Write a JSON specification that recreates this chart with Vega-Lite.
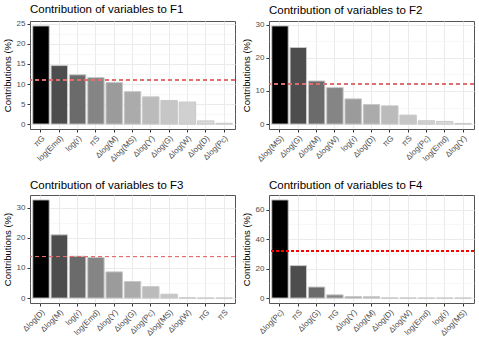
{
  "$schema": "https://vega.github.io/schema/vega-lite/v6.json",
  "padding": {"left": 1, "top": 3, "right": 2, "bottom": 0},
  "background": "white",
  "datasets": {
    "contrib": [
      {"panel": "F1", "variable": "πG", "contrib": 24.5},
      {"panel": "F1", "variable": "log(Emd)", "contrib": 14.6},
      {"panel": "F1", "variable": "log(r)", "contrib": 12.3},
      {"panel": "F1", "variable": "πS", "contrib": 11.6},
      {"panel": "F1", "variable": "Δlog(M)", "contrib": 10.4},
      {"panel": "F1", "variable": "Δlog(MS)", "contrib": 8.1},
      {"panel": "F1", "variable": "Δlog(Y)", "contrib": 6.8},
      {"panel": "F1", "variable": "Δlog(G)", "contrib": 5.9},
      {"panel": "F1", "variable": "Δlog(W)", "contrib": 5.5},
      {"panel": "F1", "variable": "Δlog(D)", "contrib": 0.8},
      {"panel": "F1", "variable": "Δlog(Pc)", "contrib": 0.2},
      {"panel": "F2", "variable": "Δlog(MS)", "contrib": 29.6},
      {"panel": "F2", "variable": "Δlog(G)", "contrib": 23.1},
      {"panel": "F2", "variable": "Δlog(M)", "contrib": 13.0},
      {"panel": "F2", "variable": "Δlog(W)", "contrib": 11.0},
      {"panel": "F2", "variable": "log(r)", "contrib": 7.6},
      {"panel": "F2", "variable": "Δlog(D)", "contrib": 5.9},
      {"panel": "F2", "variable": "πG", "contrib": 5.5},
      {"panel": "F2", "variable": "πS", "contrib": 2.7},
      {"panel": "F2", "variable": "Δlog(Pc)", "contrib": 1.0},
      {"panel": "F2", "variable": "log(Emd)", "contrib": 0.8},
      {"panel": "F2", "variable": "Δlog(Y)", "contrib": 0.2},
      {"panel": "F3", "variable": "Δlog(D)", "contrib": 32.6},
      {"panel": "F3", "variable": "Δlog(M)", "contrib": 21.0},
      {"panel": "F3", "variable": "log(r)", "contrib": 13.9},
      {"panel": "F3", "variable": "log(Emd)", "contrib": 13.5},
      {"panel": "F3", "variable": "Δlog(Y)", "contrib": 8.7},
      {"panel": "F3", "variable": "Δlog(G)", "contrib": 5.5},
      {"panel": "F3", "variable": "Δlog(Pc)", "contrib": 3.8},
      {"panel": "F3", "variable": "Δlog(MS)", "contrib": 1.3},
      {"panel": "F3", "variable": "Δlog(W)", "contrib": 0.1},
      {"panel": "F3", "variable": "πG", "contrib": 0.0},
      {"panel": "F3", "variable": "πS", "contrib": 0.0},
      {"panel": "F4", "variable": "Δlog(Pc)", "contrib": 66.5},
      {"panel": "F4", "variable": "πS", "contrib": 22.0},
      {"panel": "F4", "variable": "Δlog(G)", "contrib": 7.5},
      {"panel": "F4", "variable": "πG", "contrib": 2.2},
      {"panel": "F4", "variable": "Δlog(Y)", "contrib": 1.0},
      {"panel": "F4", "variable": "Δlog(M)", "contrib": 0.9},
      {"panel": "F4", "variable": "Δlog(D)", "contrib": 0.1},
      {"panel": "F4", "variable": "Δlog(W)", "contrib": 0.05},
      {"panel": "F4", "variable": "log(Emd)", "contrib": 0.0},
      {"panel": "F4", "variable": "log(r)", "contrib": 0.0},
      {"panel": "F4", "variable": "Δlog(MS)", "contrib": 0.0}
    ]
  },
  "config": {
    "font": "Liberation Sans",
    "view": {"stroke": "#555555", "strokeWidth": 1},
    "title": {"anchor": "start", "frame": "group", "fontSize": 11.5, "fontWeight": "normal", "color": "#000000", "offset": 4},
    "axis": {
      "labelFont": "Liberation Sans", "labelFontSize": 8, "labelColor": "#4d4d4d", "labelOverlap": false,
      "titleFont": "Liberation Sans", "titleFontSize": 9.5, "titleFontWeight": "normal", "titleColor": "#000000",
      "gridColor": "#ebebeb", "gridWidth": 1, "tickColor": "#333333", "tickSize": 3, "domain": false
    }
  },
  "columns": 2,
  "spacing": {"row": 15, "column": 4},
  "concat": [
    {
      "title": "Contribution of variables to F1",
      "width": 205, "height": 108,
      "data": {"name": "contrib"},
      "transform": [{"filter": "datum.panel === 'F1'"}, {"window": [{"op": "row_number", "as": "rank"}]}],
      "resolve": {"axis": {"y": "independent"}},
      "layer": [
        {
          "mark": {"type": "bar", "stroke": "#c8c8c8", "strokeWidth": 1},
          "encoding": {
            "x": {"field": "variable", "type": "nominal", "sort": null, "title": null,
                  "scale": {"paddingInner": 0.1, "paddingOuter": 0.15},
                  "axis": {"labelAngle": -45, "labelAlign": "right", "labelBaseline": "top", "bandPosition": 0.5, "grid": true}},
            "y": {"field": "contrib", "type": "quantitative", "title": "Contributions (%)",
                  "scale": {"domain": [-1.225, 25.725], "nice": false, "zero": false},
                  "axis": {"values": [0, 5, 10, 15, 20, 25], "grid": true}},
            "color": {"field": "rank", "type": "ordinal", "legend": null,
                      "scale": {"domain": [1,2,3,4,5,6,7,8,9,10,11], "range": ["#000000","#4d4d4d","#6b6b6b","#858585","#9b9b9b","#ababab","#bbbbbb","#c6c6c6","#d0d0d0","#dadada","#e4e4e4"]}}
          }
        },
        {
          "mark": {"type": "rule", "color": "#e07070", "strokeDash": [4, 3], "strokeWidth": 0.7},
          "encoding": {"y": {"datum": 11.0, "type": "quantitative",
            "axis": {"orient": "right", "values": [2.5, 7.5, 12.5, 17.5, 22.5], "grid": true, "gridColor": "#f3f3f3", "gridWidth": 0.6, "labels": false, "ticks": false, "title": null, "minExtent": 0, "maxExtent": 0, "offset": 0}}}
        }
      ]
    },
    {
      "title": "Contribution of variables to F2",
      "width": 205, "height": 108,
      "data": {"name": "contrib"},
      "transform": [{"filter": "datum.panel === 'F2'"}, {"window": [{"op": "row_number", "as": "rank"}]}],
      "resolve": {"axis": {"y": "independent"}},
      "layer": [
        {
          "mark": {"type": "bar", "stroke": "#c8c8c8", "strokeWidth": 1},
          "encoding": {
            "x": {"field": "variable", "type": "nominal", "sort": null, "title": null,
                  "scale": {"paddingInner": 0.1, "paddingOuter": 0.15},
                  "axis": {"labelAngle": -45, "labelAlign": "right", "labelBaseline": "top", "bandPosition": 0.5, "grid": true}},
            "y": {"field": "contrib", "type": "quantitative", "title": "Contributions (%)",
                  "scale": {"domain": [-1.48, 31.08], "nice": false, "zero": false},
                  "axis": {"values": [0, 10, 20, 30], "grid": true}},
            "color": {"field": "rank", "type": "ordinal", "legend": null,
                      "scale": {"domain": [1,2,3,4,5,6,7,8,9,10,11], "range": ["#000000","#4d4d4d","#6b6b6b","#858585","#9b9b9b","#ababab","#bbbbbb","#c6c6c6","#d0d0d0","#dadada","#e4e4e4"]}}
          }
        },
        {
          "mark": {"type": "rule", "color": "#e07070", "strokeDash": [4, 3], "strokeWidth": 0.7},
          "encoding": {"y": {"datum": 12.1, "type": "quantitative",
            "axis": {"orient": "right", "values": [5, 15, 25], "grid": true, "gridColor": "#f3f3f3", "gridWidth": 0.6, "labels": false, "ticks": false, "title": null, "minExtent": 0, "maxExtent": 0, "offset": 0}}}
        }
      ]
    },
    {
      "title": "Contribution of variables to F3",
      "width": 205, "height": 108,
      "data": {"name": "contrib"},
      "transform": [{"filter": "datum.panel === 'F3'"}, {"window": [{"op": "row_number", "as": "rank"}]}],
      "resolve": {"axis": {"y": "independent"}},
      "layer": [
        {
          "mark": {"type": "bar", "stroke": "#c8c8c8", "strokeWidth": 1},
          "encoding": {
            "x": {"field": "variable", "type": "nominal", "sort": null, "title": null,
                  "scale": {"paddingInner": 0.1, "paddingOuter": 0.15},
                  "axis": {"labelAngle": -45, "labelAlign": "right", "labelBaseline": "top", "bandPosition": 0.5, "grid": true}},
            "y": {"field": "contrib", "type": "quantitative", "title": "Contributions (%)",
                  "scale": {"domain": [-1.63, 34.23], "nice": false, "zero": false},
                  "axis": {"values": [0, 10, 20, 30], "grid": true}},
            "color": {"field": "rank", "type": "ordinal", "legend": null,
                      "scale": {"domain": [1,2,3,4,5,6,7,8,9,10,11], "range": ["#000000","#4d4d4d","#6b6b6b","#858585","#9b9b9b","#ababab","#bbbbbb","#c6c6c6","#d0d0d0","#dadada","#e4e4e4"]}}
          }
        },
        {
          "mark": {"type": "rule", "color": "#e07070", "strokeDash": [4, 3], "strokeWidth": 0.7},
          "encoding": {"y": {"datum": 13.8, "type": "quantitative",
            "axis": {"orient": "right", "values": [5, 15, 25], "grid": true, "gridColor": "#f3f3f3", "gridWidth": 0.6, "labels": false, "ticks": false, "title": null, "minExtent": 0, "maxExtent": 0, "offset": 0}}}
        }
      ]
    },
    {
      "title": "Contribution of variables to F4",
      "width": 205, "height": 108,
      "data": {"name": "contrib"},
      "transform": [{"filter": "datum.panel === 'F4'"}, {"window": [{"op": "row_number", "as": "rank"}]}],
      "resolve": {"axis": {"y": "independent"}},
      "layer": [
        {
          "mark": {"type": "bar", "stroke": "#c8c8c8", "strokeWidth": 1},
          "encoding": {
            "x": {"field": "variable", "type": "nominal", "sort": null, "title": null,
                  "scale": {"paddingInner": 0.1, "paddingOuter": 0.15},
                  "axis": {"labelAngle": -45, "labelAlign": "right", "labelBaseline": "top", "bandPosition": 0.5, "grid": true}},
            "y": {"field": "contrib", "type": "quantitative", "title": "Contributions (%)",
                  "scale": {"domain": [-3.325, 69.825], "nice": false, "zero": false},
                  "axis": {"values": [0, 20, 40, 60], "grid": true}},
            "color": {"field": "rank", "type": "ordinal", "legend": null,
                      "scale": {"domain": [1,2,3,4,5,6,7,8,9,10,11], "range": ["#000000","#4d4d4d","#6b6b6b","#858585","#9b9b9b","#ababab","#bbbbbb","#c6c6c6","#d0d0d0","#dadada","#e4e4e4"]}}
          }
        },
        {
          "mark": {"type": "rule", "color": "#ff0000", "strokeDash": [3, 2], "strokeWidth": 1.5},
          "encoding": {"y": {"datum": 32.0, "type": "quantitative",
            "axis": {"orient": "right", "values": [10, 30, 50], "grid": true, "gridColor": "#f3f3f3", "gridWidth": 0.6, "labels": false, "ticks": false, "title": null, "minExtent": 0, "maxExtent": 0, "offset": 0}}}
        }
      ]
    }
  ]
}
